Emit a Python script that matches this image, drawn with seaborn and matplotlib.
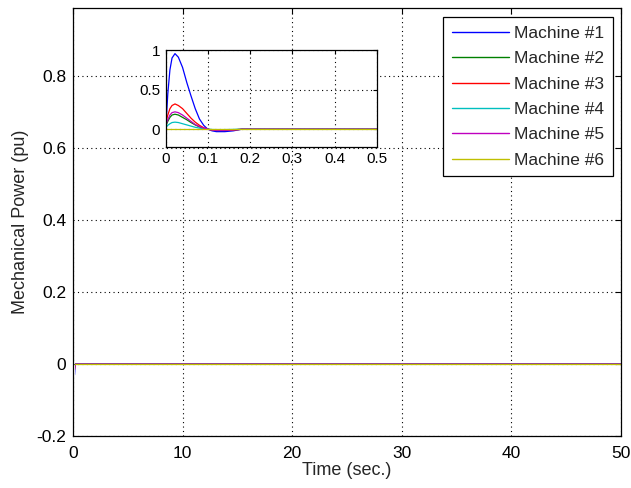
import pandas as pd
import matplotlib
matplotlib.use("Agg")
import matplotlib.pyplot as plt
from matplotlib.patches import Rectangle
import seaborn as sns

# time samples (sec.)
time = [0, 0.005, 0.01, 0.015, 0.022, 0.03, 0.04, 0.05, 0.06, 0.07, 0.08,
        0.09, 0.1, 0.11, 0.12, 0.14, 0.16, 0.18, 0.5, 50]

machine1 = [0, 0.45, 0.75, 0.9, 0.955, 0.91, 0.78, 0.59, 0.42, 0.26, 0.13,
            0.05, 0.0, -0.02, -0.03, -0.03, -0.02, 0, 0, 0]
machine2 = [0.04, 0.1, 0.15, 0.18, 0.19, 0.18, 0.15, 0.12, 0.085, 0.055, 0.03,
            0.012, 0, -0.005, -0.008, -0.008, -0.005, 0, 0, 0]
machine3 = [0.08, 0.18, 0.26, 0.3, 0.32, 0.3, 0.26, 0.2, 0.14, 0.09, 0.05,
            0.02, 0, -0.01, -0.015, -0.015, -0.01, 0, 0, 0]
machine4 = [0.02, 0.05, 0.07, 0.085, 0.09, 0.085, 0.07, 0.055, 0.04, 0.025, 0.015,
            0.005, 0, -0.003, -0.004, -0.004, -0.002, 0, 0, 0]
machine5 = [0.05, 0.12, 0.18, 0.21, 0.22, 0.21, 0.18, 0.14, 0.1, 0.06, 0.035,
            0.015, 0, -0.008, -0.012, -0.012, -0.008, 0, 0, 0]
machine6 = [0] * len(time)

labels = ["Machine #1", "Machine #2", "Machine #3", "Machine #4", "Machine #5", "Machine #6"]
colors = ["#0000ff", "#008000", "#ff0000", "#00bfbf", "#bf00bf", "#bfbf00"]
series = [machine1, machine2, machine3, machine4, machine5, machine6]

main_xticks = [0, 10, 20, 30, 40, 50]
main_yticks = [-0.2, 0, 0.2, 0.4, 0.6, 0.8]
main_yticklabels = ["-0.2", "0", "0.2", "0.4", "0.6", "0.8"]
inset_xticks = [0, 0.1, 0.2, 0.3, 0.4, 0.5]
inset_xticklabels = ["0", "0.1", "0.2", "0.3", "0.4", "0.5"]
inset_yticks = [0, 0.5, 1]
inset_yticklabels = ["0", "0.5", "1"]

rows = []
for lab, vals in zip(labels, series):
    for t, v in zip(time, vals):
        rows.append({"Time": t, "Power": v, "Machine": lab})
df = pd.DataFrame(rows)

sns.set_style("white")
plt.rcParams['font.family'] = ['Liberation Sans', 'DejaVu Sans']


def style_axes(ax, fs):
    ax.grid(True, color="black", linestyle=(0, (1, 3)), linewidth=0.8)
    ax.tick_params(direction="in", top=True, right=True, length=4,
                   width=0.8, labelsize=fs, colors="black", pad=5)
    for s in ax.spines.values():
        s.set_color("black")
        s.set_linewidth(0.9)
    ax.set_facecolor("white")


fig = plt.figure(figsize=(6.31, 4.88), dpi=100)
ax = fig.add_axes([0.1157, 0.1066, 0.8685, 0.877])

sns.lineplot(data=df, x="Time", y="Power", hue="Machine", palette=colors,
             hue_order=labels, ax=ax, legend=False, linewidth=0.9,
             estimator=None, sort=False)
ax.set_xlim(0, 50)
ax.set_ylim(-0.2, 0.99)
# the fast transient sits under the left axis line at this scale
clip = Rectangle((0.0036, -0.1), 1.0, 1.2, transform=ax.transAxes)
for ln in ax.lines:
    ln.set_clip_path(clip)
ax.set_xticks(main_xticks)
ax.set_xticklabels([str(v) for v in main_xticks])
ax.set_yticks(main_yticks)
ax.set_yticklabels(main_yticklabels)
style_axes(ax, 12.5)
ax.tick_params(axis="x", pad=7)
ax.set_xlabel("Time (sec.)", fontsize=13, labelpad=1)
ax.set_ylabel("Mechanical Power (pu)", fontsize=13, labelpad=5)

handles = [plt.Line2D([], [], color=c, linewidth=1.0) for c in colors]
leg = ax.legend(handles, labels, loc="upper right", bbox_to_anchor=(0.9855, 0.979),
                borderaxespad=0, fontsize=12.5, frameon=True, fancybox=False,
                framealpha=1, edgecolor="black", handlelength=3.3,
                handletextpad=0.3, labelspacing=0.59, borderpad=0.5)
leg.get_frame().set_linewidth(0.9)
leg.set_zorder(10)

# zoomed inset
axin = fig.add_axes([0.2626, 0.6994, 0.3344, 0.198])
sns.lineplot(data=df, x="Time", y="Power", hue="Machine", palette=colors,
             hue_order=labels, ax=axin, legend=False, linewidth=0.9,
             estimator=None, sort=False)
axin.set_xlim(0, 0.5)
axin.set_ylim(-0.22, 1.0)
axin.set_xticks(inset_xticks)
axin.set_xticklabels(inset_xticklabels)
axin.set_yticks(inset_yticks)
axin.set_yticklabels(inset_yticklabels)
style_axes(axin, 11)
axin.tick_params(length=3, pad=4)
axin.set_xlabel("")
axin.set_ylabel("")

fig.savefig("out.png", dpi=100)
